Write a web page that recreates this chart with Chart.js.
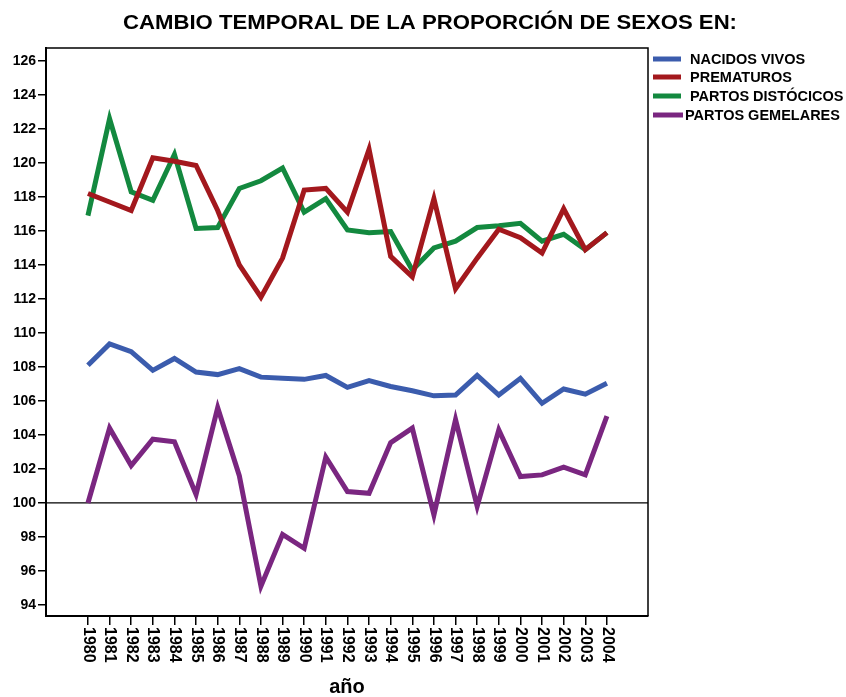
<!DOCTYPE html>
<html>
<head>
<meta charset="utf-8">
<script src="https://cdn.jsdelivr.net/npm/chart.js@4/dist/chart.umd.min.js"></script>
<style>
	html, body { margin: 0; padding: 0; background: #fff; }
	#wrap { width: 846px; height: 697px; }
</style>
</head>
<body>
<div id="wrap"><canvas id="sexChart" width="846" height="697"></canvas></div>
<script>
	// 데이터
	var years = [1980, 1981, 1982, 1983, 1984, 1985, 1986, 1987, 1988, 1989, 1990, 1991, 1992,
		1993, 1994, 1995, 1996, 1997, 1998, 1999, 2000, 2001, 2002, 2003, 2004];
	var nacidosVivos = [108.1, 109.35, 108.9, 107.8, 108.5, 107.7, 107.55, 107.9, 107.4, 107.33, 107.27, 107.5, 106.8,
		107.2, 106.85, 106.6, 106.3, 106.35, 107.5, 106.35, 107.33, 105.86, 106.7, 106.4, 107.04];
	var prematuros = [118.2, 117.7, 117.2, 120.3, 120.1, 119.85, 117.2, 114.0, 112.1, 114.4, 118.4, 118.5, 117.1,
		120.8, 114.5, 113.3, 117.9, 112.6, 114.4, 116.1, 115.6, 114.7, 117.3, 114.9, 115.9];
	var partosDistocicos = [116.9, 122.6, 118.3, 117.8, 120.5, 116.15, 116.2, 118.5, 118.95, 119.7, 117.1, 117.9, 116.06,
		115.9, 115.96, 113.7, 115.0, 115.4, 116.2, 116.3, 116.45, 115.4, 115.8, 114.9, 115.9];
	var partosGemelares = [100.0, 104.4, 102.2, 103.75, 103.6, 100.5, 105.6, 101.6, 95.1, 98.15, 97.33, 102.7, 100.67,
		100.57, 103.55, 104.4, 99.3, 104.9, 99.8, 104.3, 101.55, 101.65, 102.1, 101.65, 105.1];
	var yTicks = [94, 96, 98, 100, 102, 104, 106, 108, 110, 112, 114, 116, 118, 120, 122, 124, 126];

	var seriesNames = ["NACIDOS VIVOS", "PREMATUROS", "PARTOS DISTÓCICOS", "PARTOS GEMELARES"];
	var seriesColors = ["#3b5cad", "#a3181d", "#13893f", "#7a2680"];
	var fontFamily = "'Liberation Sans', Arial, sans-serif";

	function toPoints(arr) {
		return years.map(function(yr, i) { return { x: yr, y: arr[i] }; });
	} // toPoints

	// 가로 폭에 맞춰 글자 그리기
	function fitText(ctx, text, cx, cy, width) {
		var w = ctx.measureText(text).width;
		ctx.save();
		ctx.translate(cx, cy);
		ctx.scale(width / w, 1);
		ctx.textAlign = "center";
		ctx.textBaseline = "middle";
		ctx.fillText(text, 0, 0);
		ctx.restore();
	} // fitText

	// 제목, 범례, x축 라벨, 100 기준선
	var decoPlugin = {
		id: "deco",
		beforeDatasetsDraw: function(chart) {
			var ctx = chart.ctx;
			var area = chart.chartArea;
			var y100 = chart.scales.y.getPixelForValue(100);
			ctx.save();
			ctx.strokeStyle = "#000";
			ctx.lineWidth = 1.2;
			ctx.beginPath();
			ctx.moveTo(area.left, y100);
			ctx.lineTo(area.right, y100);
			ctx.stroke();
			ctx.restore();
		},
		afterDraw: function(chart) {
			var ctx = chart.ctx;
			var area = chart.chartArea;
			var xs = chart.scales.x;
			ctx.save();

			// 테두리 (위, 오른쪽)
			ctx.strokeStyle = "#000";
			ctx.lineWidth = 1.5;
			ctx.beginPath();
			ctx.moveTo(area.left, area.top);
			ctx.lineTo(area.right, area.top);
			ctx.lineTo(area.right, area.bottom);
			ctx.stroke();

			// 제목
			ctx.fillStyle = "#000";
			ctx.font = "bold 21px " + fontFamily;
			fitText(ctx, "CAMBIO TEMPORAL DE LA PROPORCIÓN DE SEXOS EN:", 430, 23, 614);

			// x축 라벨 (세로)
			ctx.font = "bold 16px " + fontFamily;
			for (var i = 0; i < years.length; i++) {
				var px = xs.getPixelForValue(years[i]);
				ctx.save();
				ctx.translate(px, area.bottom + 11);
				ctx.rotate(Math.PI / 2);
				ctx.textAlign = "left";
				ctx.textBaseline = "middle";
				ctx.fillText(String(years[i]), 0, 0);
				ctx.restore();
			} // end for

			// x축 제목
			ctx.font = "bold 20px " + fontFamily;
			ctx.textAlign = "center";
			ctx.textBaseline = "middle";
			ctx.fillText("año", (area.left + area.right) / 2, 687);

			// 범례
			var rowY = [59, 77, 96, 115];
			ctx.font = "bold 14.5px " + fontFamily;
			ctx.textAlign = "left";
			for (var j = 0; j < seriesNames.length; j++) {
				ctx.strokeStyle = seriesColors[j];
				ctx.lineWidth = 5;
				ctx.beginPath();
				ctx.moveTo(653, rowY[j]);
				ctx.lineTo(j == 3 ? 683 : 681, rowY[j]);
				ctx.stroke();
				ctx.fillStyle = "#000";
				ctx.fillText(seriesNames[j], j == 3 ? 685 : 690, rowY[j] + 1);
			} // end for
			ctx.restore();
		}
	}; // decoPlugin

	var datasets = [nacidosVivos, prematuros, partosDistocicos, partosGemelares].map(function(arr, i) {
		return {
			label: seriesNames[i],
			data: toPoints(arr),
			borderColor: seriesColors[i],
			backgroundColor: seriesColors[i],
			borderWidth: 5,
			pointRadius: 0,
			tension: 0,
			borderJoinStyle: "miter",
			fill: false
		};
	});

	var chart = new Chart(document.getElementById("sexChart"), {
		type: "line",
		data: { datasets: datasets },
		options: {
			responsive: false,
			animation: false,
			layout: { padding: { top: 48, right: 198, bottom: 81, left: 0 } },
			plugins: {
				legend: { display: false },
				title: { display: false },
				tooltip: { enabled: false }
			},
			scales: {
				x: {
					type: "linear",
					min: 1978.06,
					max: 2005.9,
					afterBuildTicks: function(axis) {
						axis.ticks = years.map(function(v) { return { value: v }; });
					},
					afterFit: function(axis) { axis.height = 0; },
					ticks: { display: false },
					grid: { display: true, drawOnChartArea: false, drawTicks: true, tickLength: 9, color: "#000", lineWidth: 1.5 },
					border: { display: true, color: "#000", width: 2 }
				},
				y: {
					type: "linear",
					min: 93.35,
					max: 126.76,
					afterBuildTicks: function(axis) {
						axis.ticks = yTicks.map(function(v) { return { value: v }; });
					},
					afterFit: function(axis) { axis.width = 46; },
					ticks: {
						color: "#000",
						padding: 2,
						font: { family: fontFamily, size: 14, weight: "bold" }
					},
					grid: { display: true, drawOnChartArea: false, drawTicks: true, tickLength: 8, color: "#000", lineWidth: 1.5 },
					border: { display: true, color: "#000", width: 2 }
				}
			}
		},
		plugins: [decoPlugin]
	}); // end chart
</script>
</body>
</html>
